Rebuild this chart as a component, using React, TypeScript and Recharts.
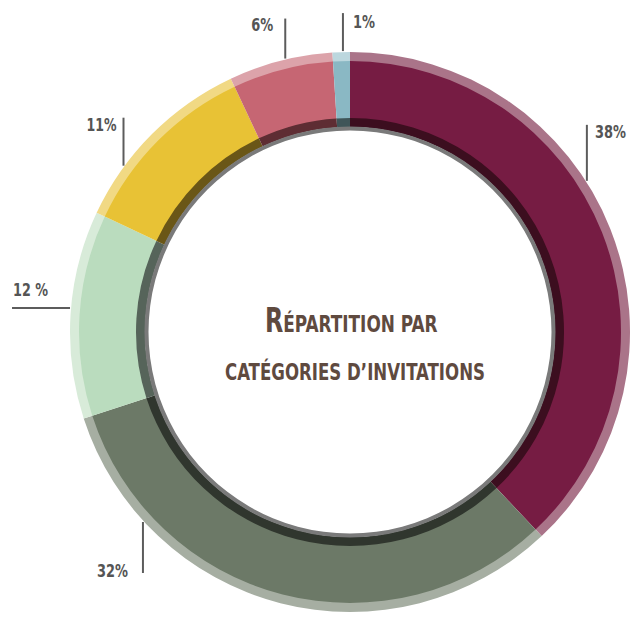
import { PieChart, Pie, Cell } from 'recharts';

// données du graphique
const categories = ['Catégorie 1', 'Catégorie 2', 'Catégorie 3', 'Catégorie 4', 'Catégorie 5', 'Catégorie 6'];
const shares = [38, 32, 12, 11, 6, 1];
const percentLabels = ['38%', '32%', '12 %', '11%', '6%', '1%'];

const mainColors = ['#761c43', '#6c7967', '#badcbe', '#e8c235', '#c66673', '#8ab8c4'];
const rimColors = ['#aa7489', '#a6aea2', '#d8ebd9', '#f1d984', '#dca3aa', '#bcd7de'];
const shadeColors = ['#3c0e1f', '#30362e', '#56645a', '#6a5617', '#5e2d33', '#3f5558'];

const data = categories.map((name, i) => ({ name, value: shares[i] }));
const ring = [{ name: 'ring', value: 1 }];

const CX = 350;
const CY = 332;
const FONT = '"Liberation Sans Narrow", "DejaVu Sans Condensed", "Roboto", sans-serif';

type Dir = 'up' | 'down' | 'left';
// placement des étiquettes (t = position dans la part, 0..1)
const labelLayout: { t: number; dir: Dir; len: number; dx: number; dy: number; anchor: 'start' | 'end'; w: number }[] = [
  { t: 0.42, dir: 'up', len: 56, dx: 8, dy: 13, anchor: 'start', w: 31 },
  { t: 0.787, dir: 'down', len: 51, dx: -15, dy: 4, anchor: 'end', w: 31 },
  { t: 0.53, dir: 'left', len: 58, dx: 1, dy: -12, anchor: 'start', w: 35 },
  { t: 0.28, dir: 'up', len: 48, dx: -7, dy: 13, anchor: 'end', w: 30 },
  { t: 0.55, dir: 'up', len: 40, dx: -12, dy: 12, anchor: 'end', w: 22 },
  { t: 0.6, dir: 'up', len: 38, dx: 10, dy: 15, anchor: 'start', w: 22 },
];

function renderLabel(props: any) {
  const { cx, cy, outerRadius, startAngle, endAngle, index } = props;
  const lay = labelLayout[index];
  if (!lay) return null;
  // angles recharts -> angle compas (sens horaire depuis le haut)
  const a0 = 90 - startAngle;
  const a1 = 90 - endAngle;
  const a = ((a0 + lay.t * (a1 - a0)) * Math.PI) / 180;
  const r = outerRadius + 10; // bord extérieur de la bordure claire
  const px = cx + r * Math.sin(a);
  const py = cy - r * Math.cos(a);
  let ex = px;
  let ey = py;
  if (lay.dir === 'up') ey = py - lay.len;
  if (lay.dir === 'down') ey = py + lay.len;
  if (lay.dir === 'left') ex = px - lay.len;
  const tx = lay.dir === 'left' ? ex + lay.dx : px + lay.dx;
  const ty = lay.dir === 'left' ? py + lay.dy : ey + lay.dy;
  return (
    <g key={`lbl-${index}`}>
      <line x1={px} y1={py} x2={ex} y2={ey} stroke="#5c5c5c" strokeWidth={2} />
      <text
        x={tx}
        y={ty}
        textAnchor={lay.anchor}
        fontFamily={FONT}
        fontSize={17}
        fontWeight={700}
        fill="#555555"
        textLength={lay.w}
        lengthAdjust="spacingAndGlyphs"
      >
        {percentLabels[index]}
      </text>
    </g>
  );
}

export default function App() {
  return (
    <div style={{ position: 'absolute', left: 0, top: 0, width: 630, height: 618, background: '#fff' }}>
      <PieChart width={630} height={618} margin={{ top: 0, right: 0, bottom: 0, left: 0 }}>
        <Pie
          data={data}
          dataKey="value"
          cx={CX}
          cy={CY}
          startAngle={90}
          endAngle={-270}
          innerRadius={270}
          outerRadius={280}
          stroke="none"
          isAnimationActive={false}
        >
          {data.map((d, i) => (
            <Cell key={d.name} fill={rimColors[i]} />
          ))}
        </Pie>
        <Pie
          data={data}
          dataKey="value"
          cx={CX}
          cy={CY}
          startAngle={90}
          endAngle={-270}
          innerRadius={213}
          outerRadius={271}
          stroke="none"
          label={renderLabel}
          labelLine={false}
          isAnimationActive={false}
        >
          {data.map((d, i) => (
            <Cell key={d.name} fill={mainColors[i]} />
          ))}
        </Pie>
        <Pie
          data={data}
          dataKey="value"
          cx={CX}
          cy={CY}
          startAngle={90}
          endAngle={-270}
          innerRadius={205}
          outerRadius={214}
          stroke="none"
          isAnimationActive={false}
        >
          {data.map((d, i) => (
            <Cell key={d.name} fill={shadeColors[i]} />
          ))}
        </Pie>
        <Pie
          data={ring}
          dataKey="value"
          cx={CX}
          cy={CY}
          startAngle={90}
          endAngle={-270}
          innerRadius={201.5}
          outerRadius={205.5}
          stroke="none"
          fill="#7a7a7a"
          isAnimationActive={false}
        />
      </PieChart>
      <svg
        width={630}
        height={618}
        style={{ position: 'absolute', left: 0, top: 0, pointerEvents: 'none' }}
      >
        {/* titre central, police condensée par mise à l'échelle horizontale */}
        <g transform="translate(265,332) scale(0.8,1)">
          <text x={0} y={0} fontFamily={FONT} fontWeight={700} fill="#5f4a3f">
            <tspan fontSize={33}>R</tspan>
            <tspan fontSize={23.5}>ÉPARTITION PAR</tspan>
          </text>
        </g>
        <text x={225} y={380} fontFamily={FONT} fontWeight={700} fontSize={23.5} fill="#5f4a3f" textLength={260} lengthAdjust="spacingAndGlyphs">
          CATÉGORIES D’INVITATIONS
        </text>
      </svg>
    </div>
  );
}
